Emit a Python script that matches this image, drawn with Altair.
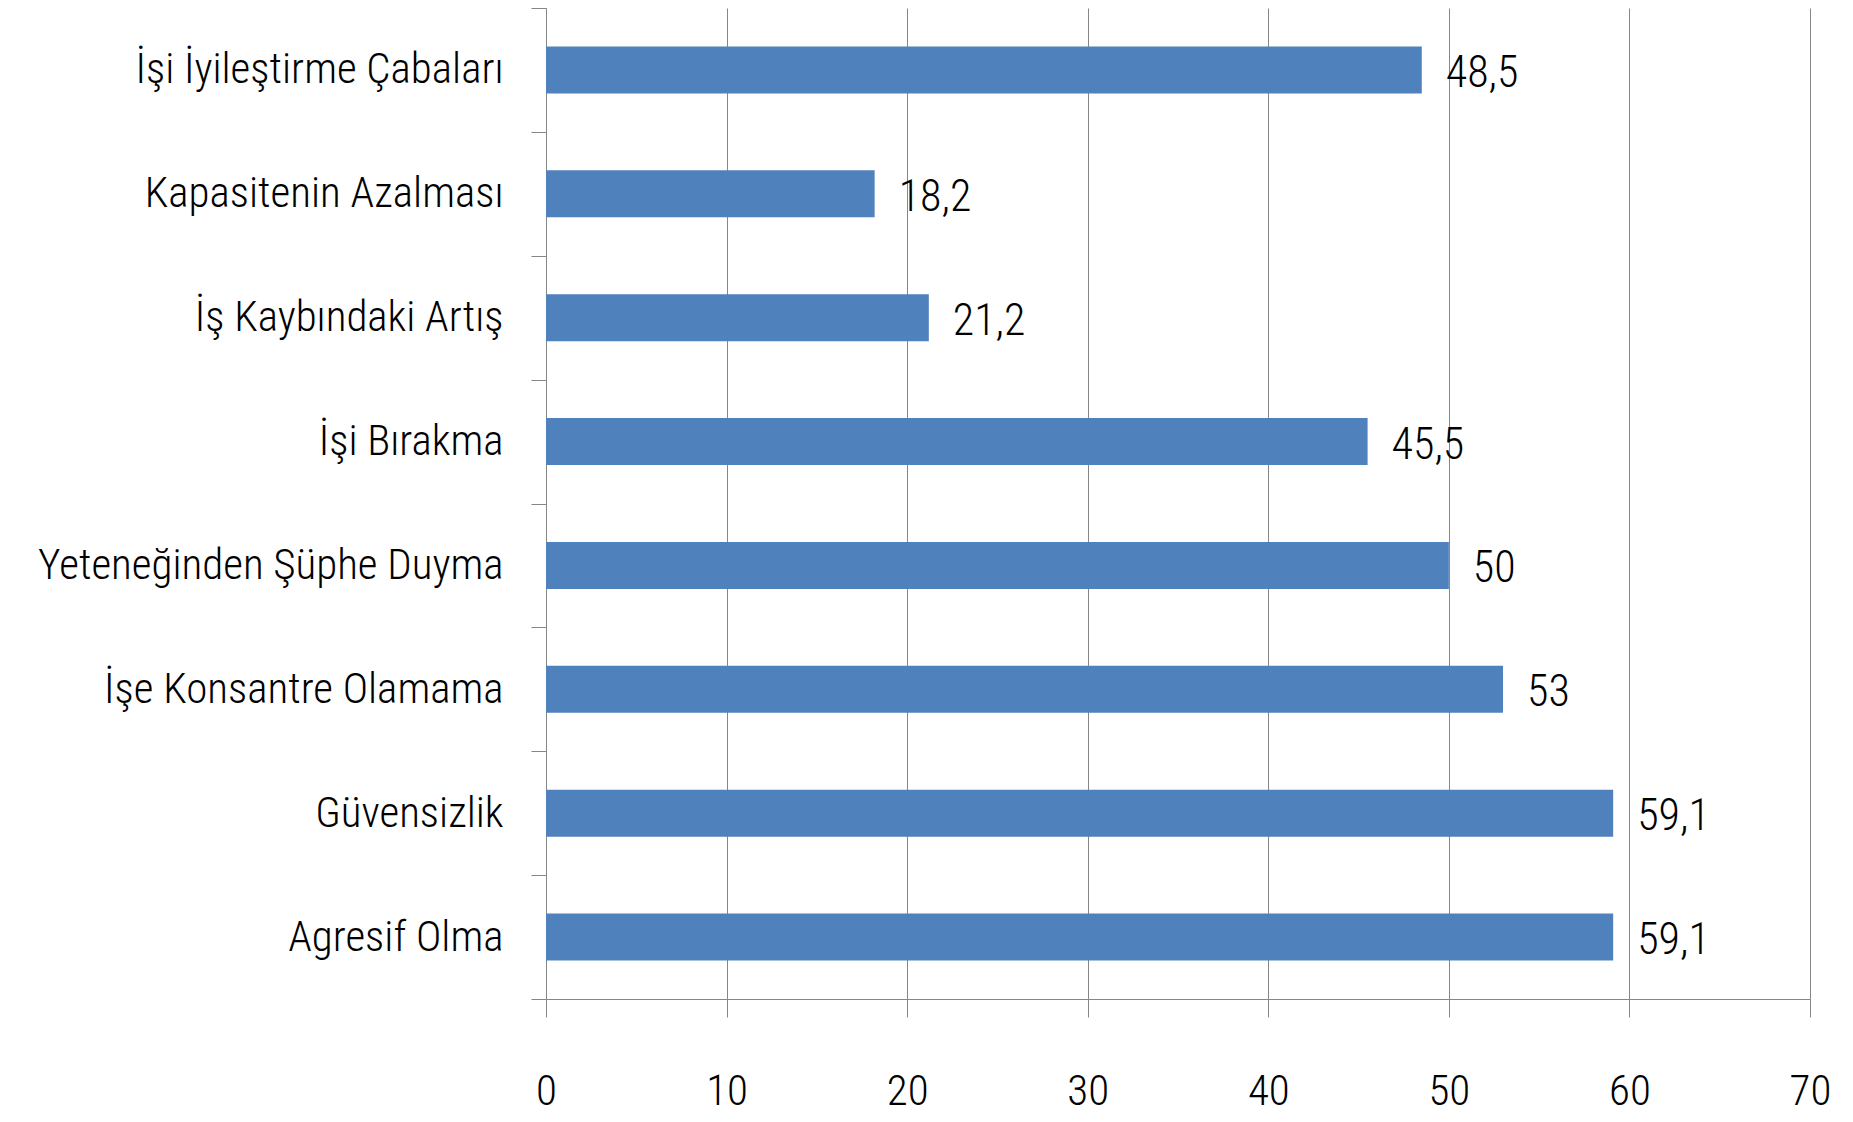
import altair as alt
import pandas as pd

categories = [
    "İşi İyileştirme Çabaları",
    "Kapasitenin Azalması",
    "İş Kaybındaki Artış",
    "İşi Bırakma",
    "Yeteneğinden Şüphe Duyma",
    "İşe Konsantre Olamama",
    "Güvensizlik",
    "Agresif Olma",
]
values = [48.5, 18.2, 21.2, 45.5, 50, 53, 59.1, 59.1]
x_ticks = [0, 10, 20, 30, 40, 50, 60, 70]

df = pd.DataFrame({
    "cat": categories,
    "val": values,
    "lbl": [f"{v:g}".replace(".", ",") for v in values],
})

FONT = "Roboto Condensed, Liberation Sans Narrow, DejaVu Sans Condensed, sans-serif"
GRAY = "#868686"

y_enc = alt.Y(
    "cat:N", sort=None, title=None,
    scale=alt.Scale(paddingInner=0, paddingOuter=0),
    axis=alt.Axis(
        tickBand="extent", tickSize=15, tickColor=GRAY, domainColor=GRAY,
        labelFont=FONT, labelFontSize=43, labelFontWeight=300, labelColor="#000000",
        labelPadding=28, labelLimit=600, grid=False,
    ),
)
x_enc = alt.X(
    "val:Q", title=None,
    scale=alt.Scale(domain=[0, 70], nice=False),
    axis=alt.Axis(
        values=x_ticks, tickSize=18, tickColor=GRAY, domainColor=GRAY,
        grid=True, gridColor=GRAY, gridOpacity=1, gridWidth=1,
        labelFont=FONT, labelFontSize=43, labelFontWeight=300, labelColor="#000000",
        labelPadding=53, labelFlush=False,
    ),
)

bars = alt.Chart(df).mark_bar(color="#4F81BD", height={"band": 0.38}).encode(y=y_enc, x=x_enc)
text = alt.Chart(df).mark_text(
    align="left", baseline="middle", dx=24, dy=4,
    font=FONT, fontSize=44, fontWeight=300, color="#000000",
).encode(y=alt.Y("cat:N", sort=None), x="val:Q", text="lbl:N")

chart = (bars + text).properties(
    width=1264, height=991,
    autosize=alt.AutoSizeParams(type="none"),
    padding={"left": 538, "top": 0, "right": 30, "bottom": 114},
).configure_view(stroke=None)

chart.save("out.html", embed_options={"renderer": "svg", "actions": False})
